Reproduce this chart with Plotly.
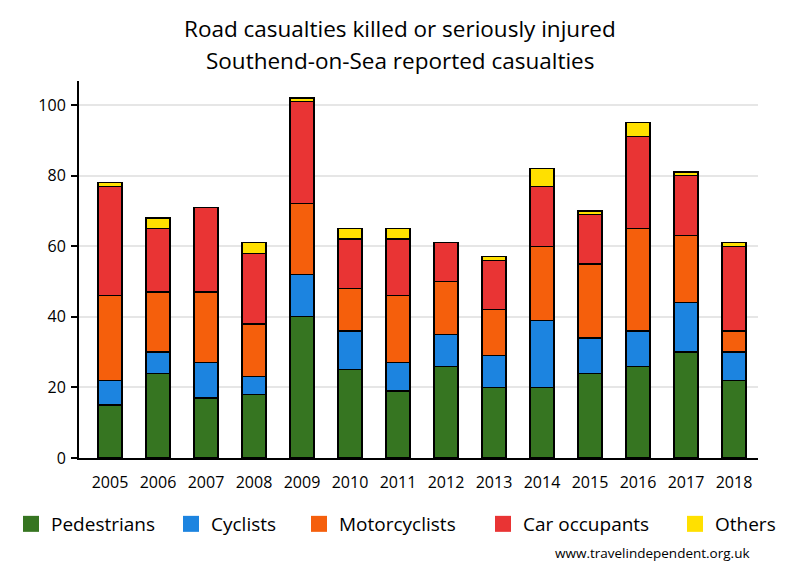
import plotly.graph_objects as go

years = ["2005", "2006", "2007", "2008", "2009", "2010", "2011", "2012", "2013", "2014", "2015", "2016", "2017", "2018"]
pedestrians = [15, 24, 17, 18, 40, 25, 19, 26, 20, 20, 24, 26, 30, 22]
cyclists = [7, 6, 10, 5, 12, 11, 8, 9, 9, 19, 10, 10, 14, 8]
motorcyclists = [24, 17, 20, 15, 20, 12, 19, 15, 13, 21, 21, 29, 19, 6]
car_occupants = [31, 18, 24, 20, 29, 14, 16, 11, 14, 17, 14, 26, 17, 24]
others = [1, 3, 0, 3, 1, 3, 3, 0, 1, 5, 1, 4, 1, 1]
y_ticks = [0, 20, 40, 60, 80, 100]

series = [
    ("Pedestrians", pedestrians, "#367521"),
    ("Cyclists", cyclists, "#1c84e0"),
    ("Motorcyclists", motorcyclists, "#f55f0c"),
    ("Car occupants", car_occupants, "#e93434"),
    ("Others", others, "#ffe000"),
]

# layout geometry (pixels)
W, H = 800, 580
L, R, T, B = 79, 42, 81, 122
PW, PH = W - L - R, H - T - B


def px_x(p):
    return (p - L) / PW


def px_y(p):
    return (H - B - p) / PH


legend_square_left = [23, 183, 311, 495, 687]

font_family = "Open Sans, Noto Sans, DejaVu Sans, sans-serif"

fig = go.Figure()
for name, vals, col in series:
    fig.add_trace(go.Bar(
        x=years, y=vals, name=name, showlegend=False,
        marker=dict(color=col, line=dict(color="black", width=1.3)),
    ))

legend_layouts = {}
for i, (name, vals, col) in enumerate(series):
    key = "legend" if i == 0 else f"legend{i + 1}"
    fig.add_trace(go.Scatter(
        x=[None], y=[None], mode="markers", name=name, legend=key,
        marker=dict(symbol="square", size=16, color=col, line=dict(width=0)),
    ))
    legend_layouts[key] = dict(
        orientation="h", x=px_x(legend_square_left[i] - 12), xanchor="left",
        y=px_y(524), yanchor="middle", bgcolor="rgba(0,0,0,0)",
        font=dict(size=19, color="black"), itemsizing="trace",
    )

fig.update_layout(
    barmode="stack",
    bargap=0.5,
    width=W, height=H,
    margin=dict(l=L, r=R, t=T, b=B, autoexpand=False),
    paper_bgcolor="white",
    plot_bgcolor="white",
    font=dict(family=font_family, color="black"),
    xaxis=dict(
        range=[-0.646, 13.5],
        showline=True, linecolor="black", linewidth=2,
        ticks="", tickfont=dict(size=16), showgrid=False,
        ticklabelstandoff=9,
    ),
    yaxis=dict(
        range=[0, 106.8], tickvals=y_ticks,
        showline=True, linecolor="black", linewidth=2,
        showgrid=True, gridcolor="#e6e6e6", gridwidth=2,
        ticks="outside", ticklen=6, tickwidth=2, tickcolor="black",
        tickfont=dict(size=16), zeroline=False, ticklabelstandoff=2,
    ),
    annotations=[
        dict(text="Road casualties killed or seriously injured", xref="paper", yref="paper",
             x=px_x(400), xanchor="center", y=px_y(28), yanchor="middle",
             showarrow=False, font=dict(size=22.5, color="black")),
        dict(text="Southend-on-Sea reported casualties", xref="paper", yref="paper",
             x=px_x(400), xanchor="center", y=px_y(60), yanchor="middle",
             showarrow=False, font=dict(size=22.5, color="black")),
        dict(text="www.travelindependent.org.uk", xref="paper", yref="paper",
             x=px_x(752), xanchor="right", y=px_y(553), yanchor="middle",
             showarrow=False, font=dict(size=13.5, color="black")),
    ],
    **legend_layouts,
)

fig.write_html("out.html", config={"displayModeBar": False},
               post_script="document.body.style.margin='0px';")
